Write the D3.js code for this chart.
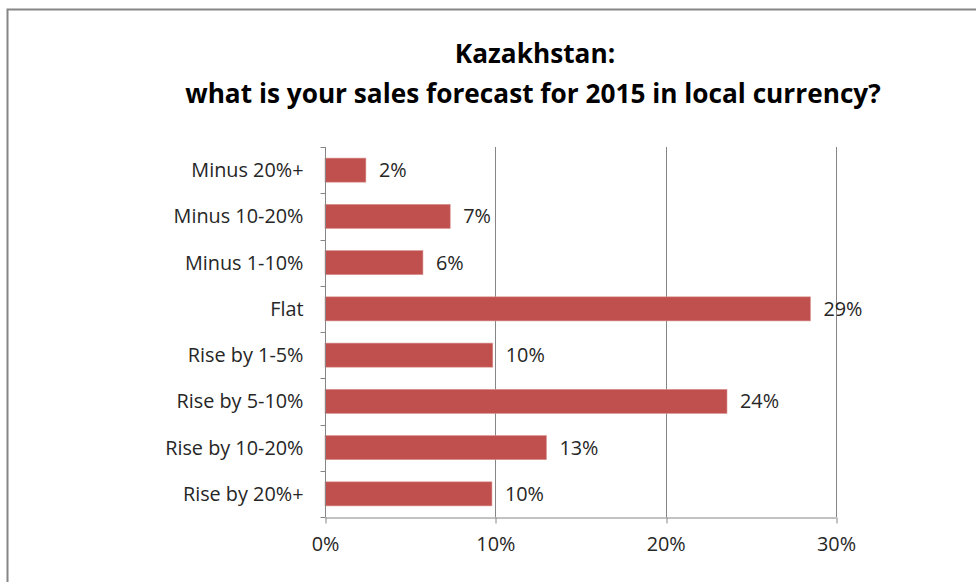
<!DOCTYPE html>
<html>
<head>
<meta charset="utf-8">
<script src="https://cdn.jsdelivr.net/npm/d3@7"></script>
<style>
  body { margin: 0; background: #fff; }
  svg { display: block; font-family: "Open Sans", Lato, sans-serif; }
</style>
</head>
<body>
<div class="chart"></div>
<script>
const categories = ["Minus 20%+", "Minus 10-20%", "Minus 1-10%", "Flat",
    "Rise by 1-5%", "Rise by 5-10%", "Rise by 10-20%", "Rise by 20%+"];
const shares = [0.024, 0.0735, 0.0575, 0.285, 0.0985, 0.236, 0.13, 0.098];
const valueLabels = ["2%", "7%", "6%", "29%", "10%", "24%", "13%", "10%"];
const xTicks = [0, 0.1, 0.2, 0.3];
const titleLines = ["Kazakhstan:", "what is your sales forecast for 2015 in local currency?"];

const width = 976, height = 582;
const margin = {top: 147, right: 140, bottom: 65, left: 325};

const svg = d3.select(".chart")
    .append("svg")
    .attr("width", width)
    .attr("height", height);

// shrink/grow a text's font so it spans about the wanted width
function fitSize(sel, wanted) {
    const node = sel.node();
    const fs = +sel.attr("font-size");
    const w = node.getComputedTextLength();
    sel.attr("font-size", (fs * wanted / w).toFixed(2));
    return fs * wanted / w;
}

// chart frame (runs past the right and bottom edges)
svg.append("rect")
    .attr("x", 7.5)
    .attr("y", 9.5)
    .attr("width", width + 20)
    .attr("height", height + 20)
    .attr("fill", "none")
    .attr("stroke", "#868686")
    .attr("stroke-width", 2);

const title = svg.append("g")
    .attr("text-anchor", "middle")
    .attr("font-weight", "bold")
    .attr("fill", "#000");
title.selectAll("text")
  .data(titleLines)
  .join("text")
    .attr("x", (d, i) => i ? 533 : 535)
    .attr("y", (d, i) => 63 + i * 40)
    .attr("font-size", 22)
    .text(d => d);
const titleSize = fitSize(title.selectAll("text").filter((d, i) => i === 1), 696);
title.selectAll("text").attr("font-size", titleSize.toFixed(2));

const xScale = d3.scaleLinear()
    .domain([0, 0.3])
    .range([margin.left, margin.left + 511]);
const yScale = d3.scaleBand()
    .domain(categories)
    .range([margin.top, height - margin.bottom])
    .paddingInner(0.48)
    .paddingOuter(0.24);

const x0 = xScale(0), yBottom = height - margin.bottom;

// vertical gridlines
svg.append("g")
    .attr("stroke", "#868686")
    .attr("stroke-width", 1)
  .selectAll("line")
  .data(xTicks.slice(1))
  .join("line")
    .attr("x1", d => Math.round(xScale(d)) + 0.5)
    .attr("x2", d => Math.round(xScale(d)) + 0.5)
    .attr("y1", margin.top)
    .attr("y2", yBottom);

// label size taken from the widest category name
const probe = svg.append("text").attr("font-size", 17).text("Minus 10-20%");
const labelSize = fitSize(probe, 130);
probe.remove();

const xAxis = g => g
    .attr("transform", `translate(0,${yBottom + 0.5})`)
    .call(d3.axisBottom(xScale).tickValues(xTicks).tickFormat(d3.format(".0%"))
        .tickSize(6).tickPadding(13).tickSizeOuter(0))
    .call(g => g.select(".domain").attr("stroke", "#868686"))
    .call(g => g.selectAll(".tick line").attr("stroke", "#868686")
        .attr("transform", d => `translate(${Math.round(xScale(d)) + 0.5 - xScale(d)},0)`))
    .call(g => g.selectAll(".tick text")
        .attr("font-family", "'Open Sans', sans-serif")
        .attr("font-size", labelSize)
        .attr("fill", "#262626"));

const yBoundaries = d3.range(categories.length + 1)
    .map(i => margin.top + i * (yBottom - margin.top) / categories.length);

const yAxis = g => g
    .attr("transform", `translate(${Math.round(x0) + 0.5},0)`)
    .call(g => g.append("line")
        .attr("y1", margin.top).attr("y2", yBottom)
        .attr("stroke", "#868686"))
    .call(g => g.selectAll(".bound")
        .data(yBoundaries)
        .join("line")
        .attr("class", "bound")
        .attr("x1", -5).attr("x2", 0)
        .attr("y1", d => Math.round(d) + 0.5)
        .attr("y2", d => Math.round(d) + 0.5)
        .attr("stroke", "#868686"))
    .call(g => g.selectAll(".cat")
        .data(categories)
        .join("text")
        .attr("class", "cat")
        .attr("x", -22)
        .attr("y", d => yScale(d) + yScale.bandwidth() / 2)
        .attr("dy", "0.35em")
        .attr("text-anchor", "end")
        .attr("font-size", labelSize)
        .attr("fill", "#262626")
        .text(d => d));

svg.append("g").call(xAxis);

svg.append("g")
    .attr("fill", "#C0504D")
    .attr("stroke", "#d9918f")
    .attr("stroke-width", 0.6)
  .selectAll("rect")
  .data(categories)
  .join("rect")
    .attr("x", x0)
    .attr("y", d => yScale(d))
    .attr("width", (d, i) => xScale(shares[i]) - x0)
    .attr("height", yScale.bandwidth());

svg.append("g").call(yAxis);

svg.append("g")
    .attr("font-size", labelSize)
    .attr("fill", "#262626")
  .selectAll("text")
  .data(categories)
  .join("text")
    .attr("x", (d, i) => xScale(shares[i]) + 13)
    .attr("y", d => yScale(d) + yScale.bandwidth() / 2)
    .attr("dy", "0.35em")
    .text((d, i) => valueLabels[i]);
</script>
</body>
</html>
